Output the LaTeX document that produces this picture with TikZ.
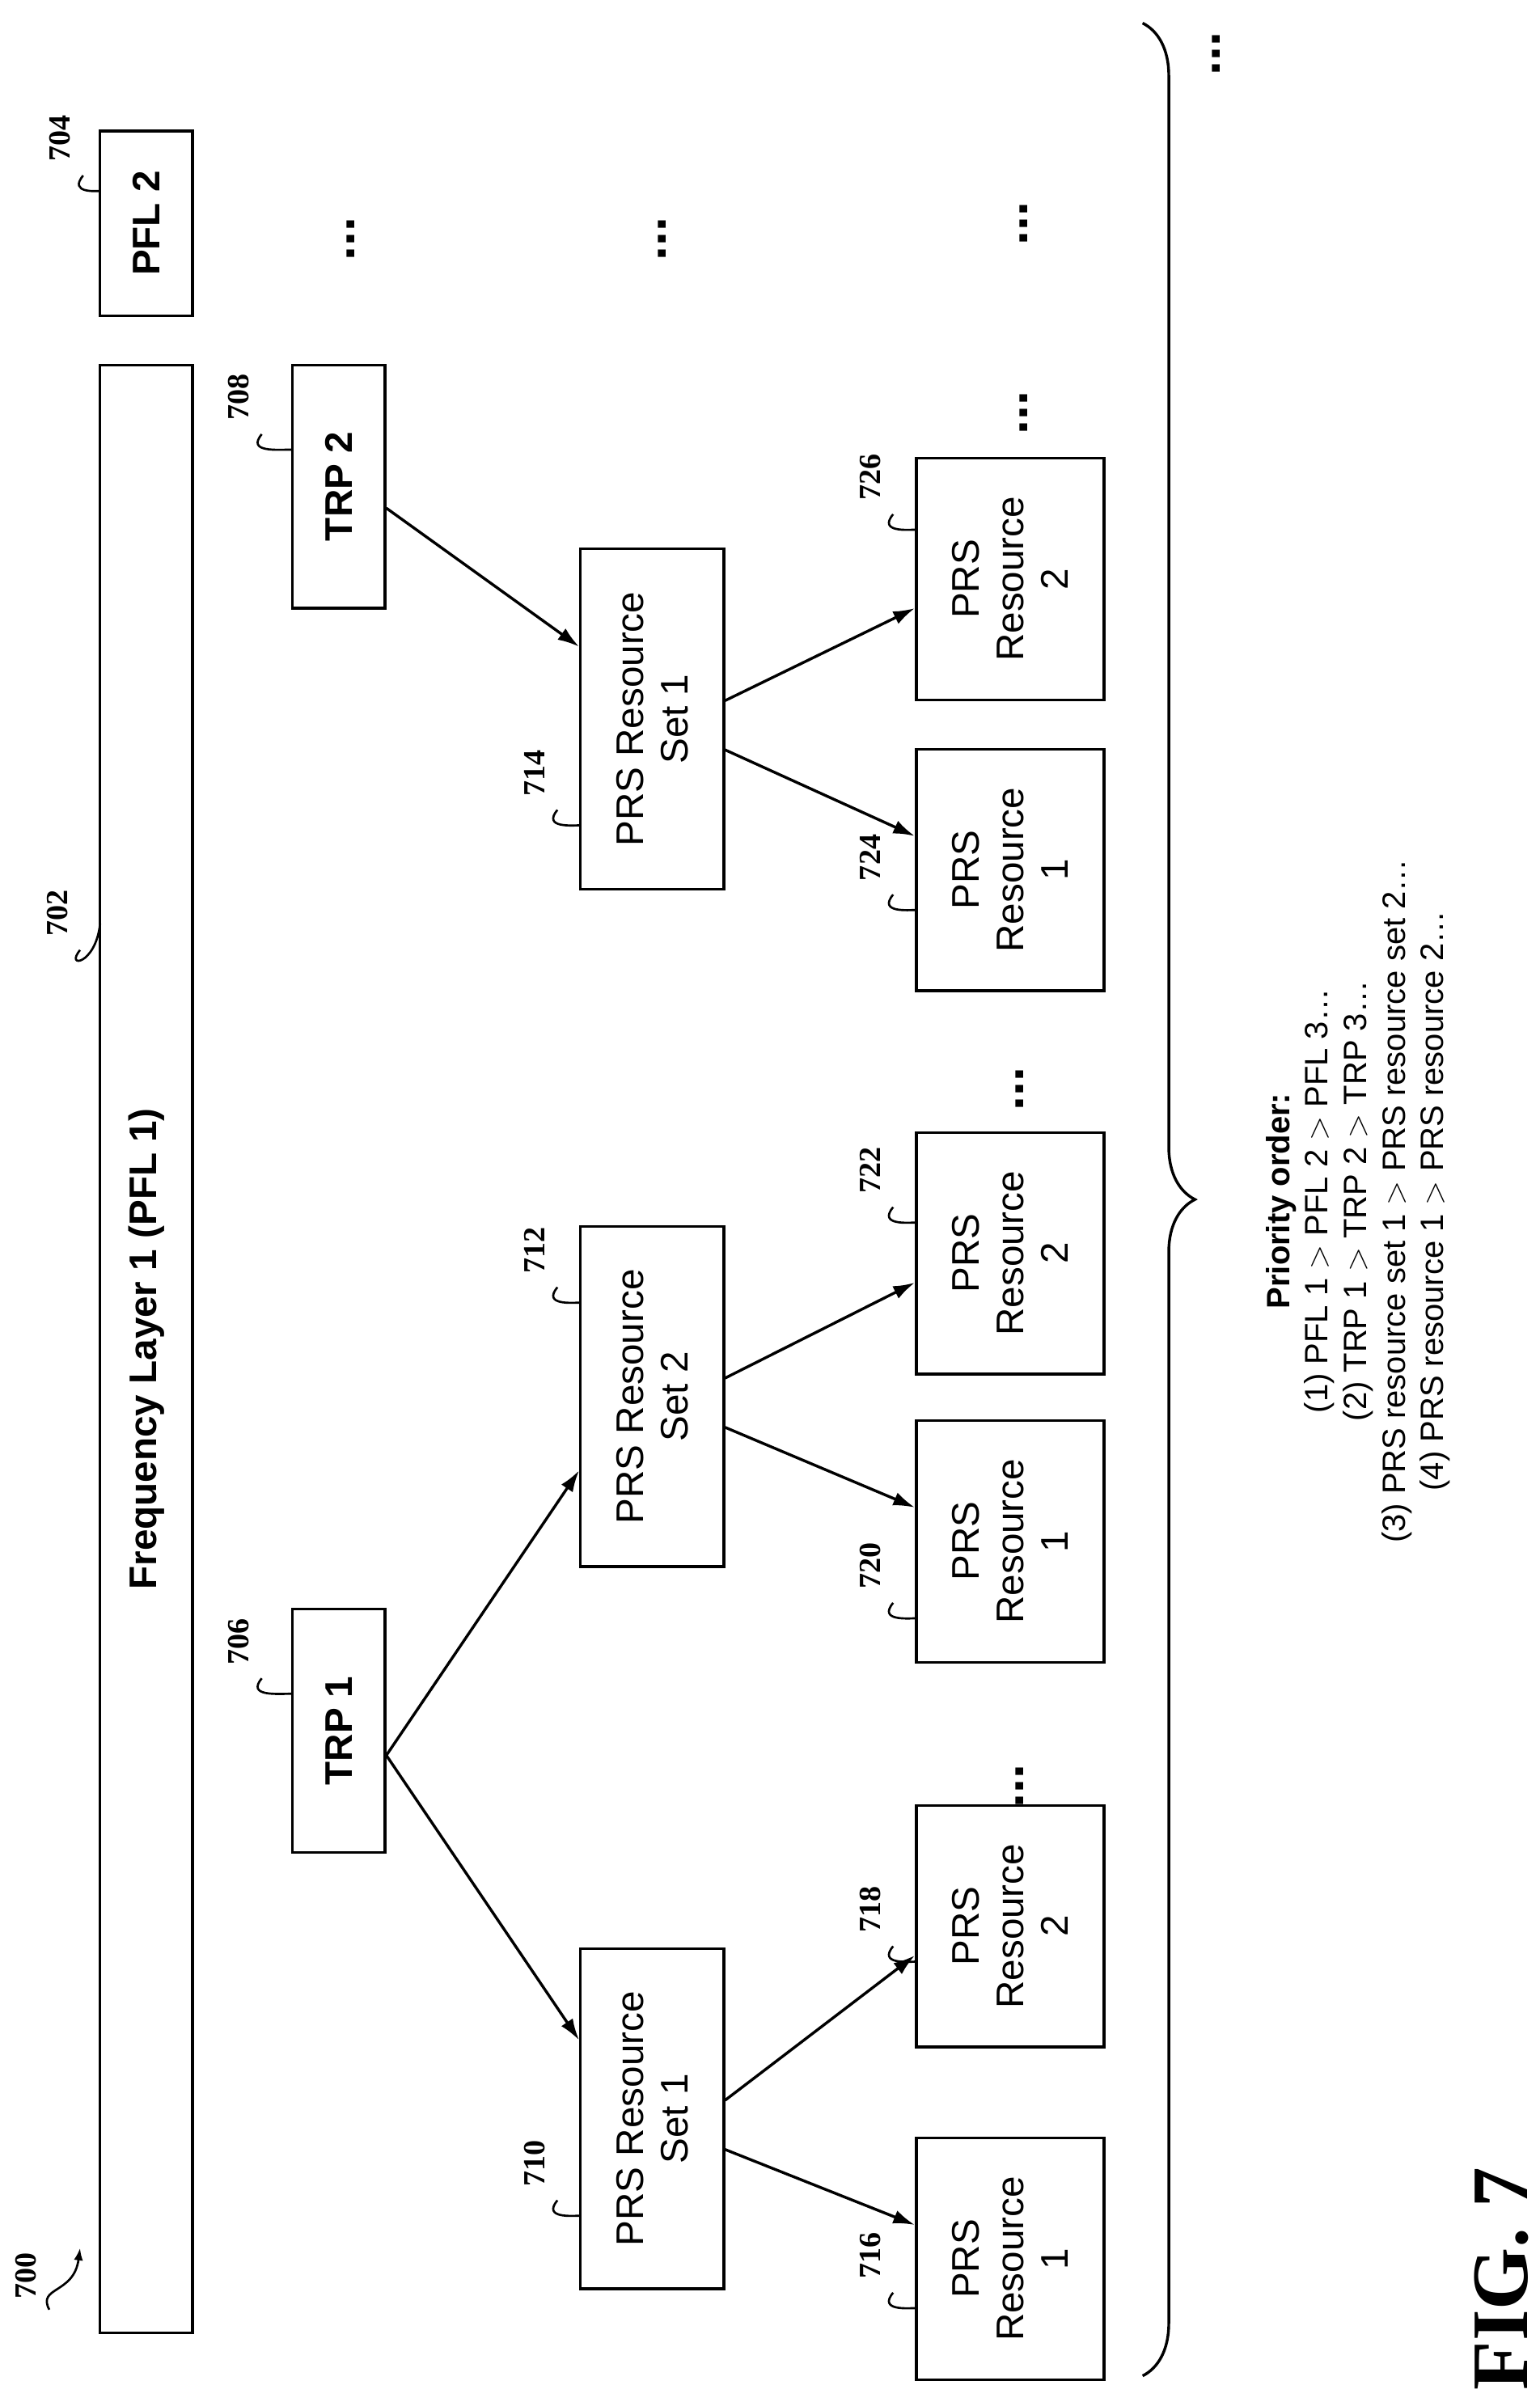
\documentclass[tikz,border=0pt]{standalone}
\usepackage{fontspec}
\setmainfont{Liberation Sans}
\newfontfamily\serifb{Liberation Serif}
\usetikzlibrary{decorations.pathreplacing,arrows.meta}
\begin{document}
\begin{tikzpicture}[x=1pt,y=1pt,
 box/.style={draw,line width=1.8pt,rotate=90,align=center,inner sep=0pt,font=\fontsize{25}{29}\selectfont},
 bb/.style={box,font=\fontsize{25}{29}\selectfont\bfseries},
 res/.style={box,minimum width=157,minimum height=122},
 set/.style={box,minimum width=221,minimum height=93},
 trp/.style={bb,minimum width=158,minimum height=60},
 arr/.style={line width=1.8pt,-{Latex[length=14pt,width=9pt]}},
 num/.style={rotate=90,font=\serifb\fontsize{20}{22}\selectfont\bfseries,inner sep=1pt},
 sq/.style={line width=1.4pt},
 dots/.style={rotate=90,font=\fontsize{34}{34}\selectfont\bfseries,inner sep=0pt}]
\useasboundingbox (0,0) rectangle (1000,-1560);
% boxes
\node[bb,minimum width=1278,minimum height=60] (fl) at (95,-876) {Frequency Layer 1 (PFL 1)};
\node[bb,minimum width=120,minimum height=60] (pfl2) at (95,-145) {PFL 2};
\node[trp] (trp2) at (220,-316) {TRP 2};
\node[trp] (trp1) at (220,-1124) {TRP 1};
\node[set] (s714) at (423.5,-467) {PRS Resource\\Set 1};
\node[set] (s712) at (423.5,-907) {PRS Resource\\Set 2};
\node[set] (s710) at (423.5,-1376) {PRS Resource\\Set 1};
\node[res] (r726) at (656,-376) {PRS\\Resource\\2};
\node[res] (r724) at (656,-565) {PRS\\Resource\\1};
\node[res] (r722) at (656,-814) {PRS\\Resource\\2};
\node[res] (r720) at (656,-1001) {PRS\\Resource\\1};
\node[res] (r718) at (656,-1251) {PRS\\Resource\\2};
\node[res] (r716) at (656,-1467) {PRS\\Resource\\1};
% arrows
\draw[arr] ([yshift=-16]trp1.south) -- ([yshift=-48]s712.north);
\draw[arr] ([yshift=-16]trp1.south) -- ([yshift=51]s710.north);
\draw[arr] ([yshift=-14]trp2.south) -- ([yshift=47]s714.north);
\foreach \s/\a/\b in {s714/r726/r724,s712/r722/r720,s710/r718/r716}{
 \draw[arr] ([yshift=12]\s.south) -- ([yshift=-19]\a.north);
 \draw[arr] ([yshift=-20]\s.south) -- ([yshift=22]\b.north);
}
% dots
\node[dots] (d1) at (790,-35) {...};
\node[dots] (d2) at (228,-155) {...};
\node[dots] (d3) at (430,-155) {...};
\node[dots] (d4) at (665,-145) {...};
\node[dots] (d5) at (665,-268) {...};
\node[dots] (d6) at (662,-707) {...};
\node[dots] (d7) at (662,-1160) {...};
% brace
\coordinate (bt) at (742,-15);
\coordinate (bbm) at (742,-1543);
\draw[line width=1.8pt,decorate,decoration={brace,amplitude=34pt}] (bt) -- (bbm);
\node[rotate=90,align=center,font=\fontsize{21}{25}\selectfont] (prio) at (882,-780)
 {\textbf{Priority order:}\\(1) PFL 1 $>$ PFL 2 $>$ PFL 3\dots\\(2) TRP 1 $>$ TRP 2 $>$ TRP 3\dots\\(3) PRS resource set 1 $>$ PRS resource set 2\dots\\(4) PRS resource 1 $>$ PRS resource 2\dots};
\node[rotate=90,font=\serifb\fontsize{52}{52}\selectfont\bfseries] (fig) at (975,-1480) {FIG. 7};
% labels
\foreach \n/\x/\y/\tx/\ty in {704/42/112/65/124,708/158/280/190/292,706/158/1088/190/1100,702/40/615/65/600,714/350/524/377/536,712/350/834/377/846,710/350/1427/377/1439,726/568/332/595/344,724/568/579/595/591,722/568/782/595/794,720/568/1039/595/1051,718/568/1262/595/1274,716/568/1487/595/1499}{
 \node[num,anchor=south] (n\n) at (\x+5,-\y+22) {\n};
 \draw[sq] (\x+12,-\y-2) .. controls (\x+2,-\y-14) and (\x+22,-\y-12) .. (\tx,-\ty);
}
\node[num,anchor=south] (n700) at (25,-1478) {700};
\coordinate (a700) at (52,-1460);
\draw[sq,-{Latex[length=8pt]}] (32,-1500) .. controls (24,-1485) and (48,-1490) .. (a700);
\end{tikzpicture}
\end{document}
